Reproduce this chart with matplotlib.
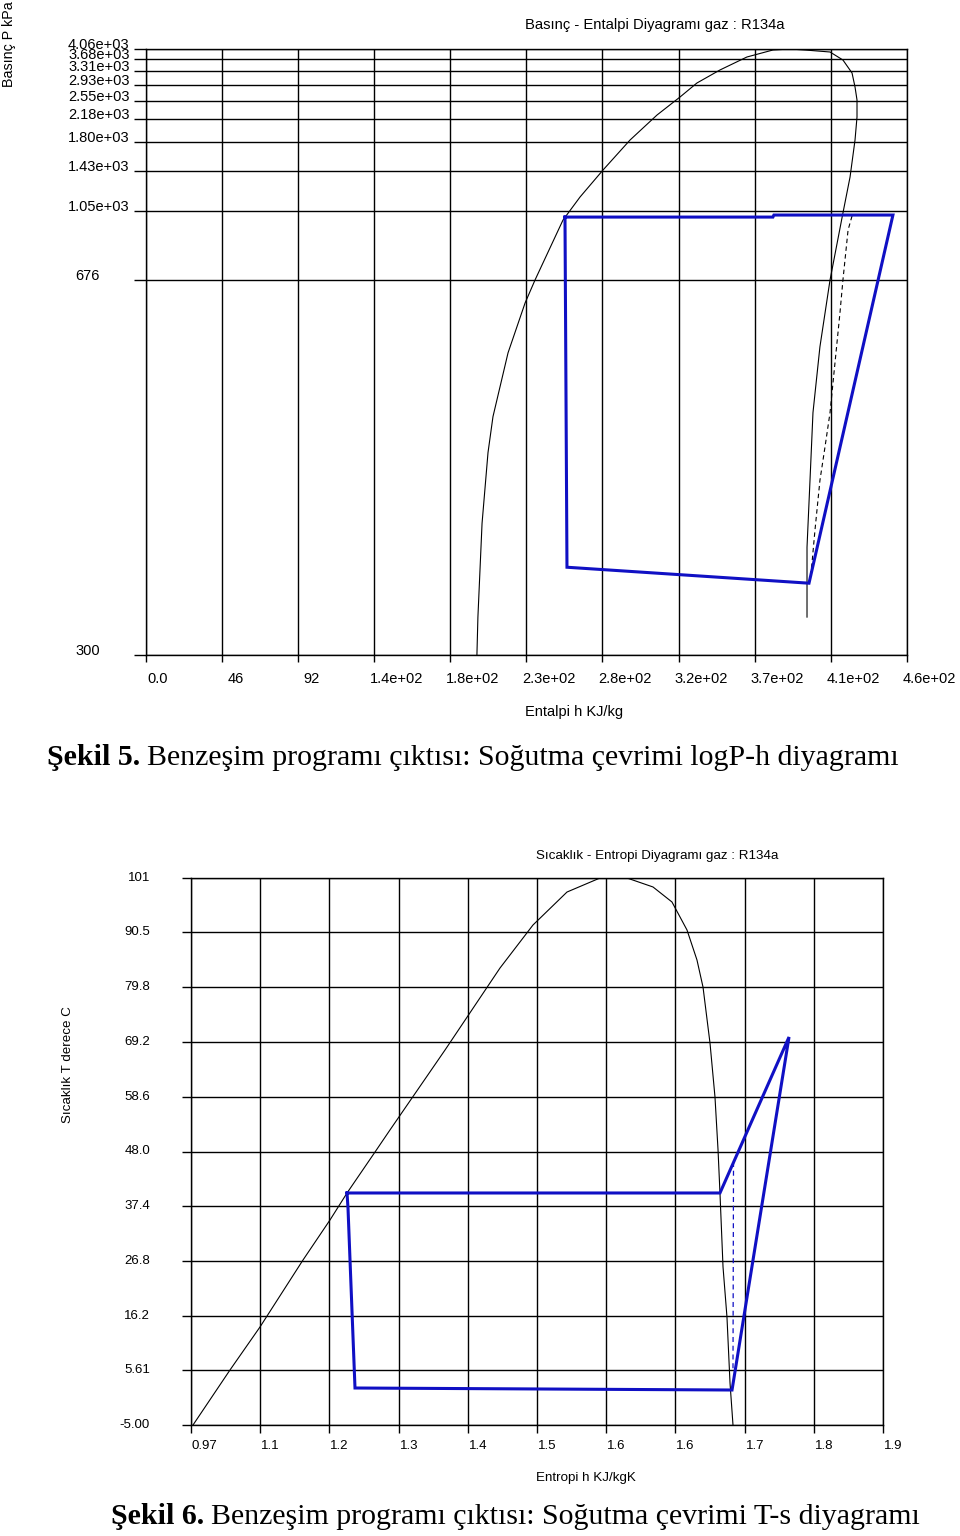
import numpy as np
import matplotlib
matplotlib.use("Agg")
import matplotlib.pyplot as plt
from matplotlib.transforms import blended_transform_factory, offset_copy

W, H = 960, 1536

# ---- Basinc - Entalpi (log P-h) diagram, R134a ----
P_TICKS = [300, 676, 1050, 1430, 1800, 2180, 2550, 2930, 3310, 3680, 4060]
P_LABELS = ["300", "676", "1.05e+03", "1.43e+03", "1.80e+03", "2.18e+03",
            "2.55e+03", "2.93e+03", "3.31e+03", "3.68e+03", "4.06e+03"]
H_TICKS = [0, 46, 92, 138, 184, 230, 276, 322, 368, 414, 460]
H_LABELS = ["0.0", "46", "92", "1.4e+02", "1.8e+02", "2.3e+02", "2.8e+02",
            "3.2e+02", "3.7e+02", "4.1e+02", "4.6e+02"]

# saturation dome (liquid side up to critical point, then vapour side down)
dome_h = [200.2, 200.8, 203.3, 206.9, 209.9, 219.0, 229.3, 235.3, 252.2, 262.5,
          276.4, 292.7, 309.0, 322.9, 333.1, 347.0, 363.3, 379.0, 389.3, 398.4,
          413.5, 421.3, 426.8, 428.6, 429.8, 429.8, 428.6, 425.6, 421.3, 413.5,
          407.4, 403.2, 401.4, 399.6, 399.6]
dome_p = [300, 338, 432, 503, 539, 603, 653, 676, 1001, 1183,
          1443, 1833, 2262, 2645, 2984, 3341, 3756, 4022, 4060, 4022,
          3946, 3649, 3256, 2883, 2574, 2221, 1833, 1373, 1039, 676,
          609, 543, 475, 408, 338]

# isentropic compression (dashed)
isen_h = [426.8, 424.4, 421.3, 419.5, 416.5, 413.5, 410.5, 407.4, 404.4, 402.6, 401.4]
isen_p = [1023, 947, 676, 643, 593, 543, 509, 475, 425, 392, 375]

# refrigeration cycle
cyc_h = [253.4, 379.0, 379.6, 451.5, 400.8, 254.6, 253.4]
cyc_p = [1017, 1017, 1028, 1028, 372, 388, 1017]

# ---- Sicaklik - Entropi (T-s) diagram, R134a ----
T_TICKS = [-5.00, 5.61, 16.2, 26.8, 37.4, 48.0, 58.6, 69.2, 79.8, 90.5, 101]
T_LABELS = ["-5.00", "5.61", "16.2", "26.8", "37.4", "48.0", "58.6", "69.2",
            "79.8", "90.5", "101"]
S_LABELS = ["0.97", "1.1", "1.2", "1.3", "1.4", "1.5", "1.6", "1.6", "1.7", "1.8", "1.9"]
S_MIN, S_MAX = 0.97, 1.9

ts_dome_s = [0.9727, 1.0224, 1.0627, 1.1205, 1.1568, 1.1797, 1.2173, 1.2374,
             1.3114, 1.3853, 1.4296, 1.4753, 1.5197, 1.5559, 1.5909, 1.6164,
             1.6366, 1.6500, 1.6581, 1.6648, 1.6675, 1.6742, 1.6783, 1.6809,
             1.6850, 1.6903, 1.6944, 1.6984]
ts_dome_t = [-5.0, 5.66, 13.99, 26.97, 34.73, 39.96, 47.90, 52.17,
             67.67, 83.56, 91.89, 98.28, 101.0, 101.0, 99.26, 96.35,
             90.92, 85.11, 79.87, 72.12, 69.02, 58.56, 48.29, 39.96,
             25.62, 15.93, 3.14, -5.0]

ts_isen_s = [1.6991, 1.6984]
ts_isen_t = [45.97, 5.66]

ts_cyc_s = [1.1797, 1.6809, 1.7737, 1.6971, 1.1904, 1.1837, 1.1810, 1.1797]
ts_cyc_t = [39.96, 39.96, 70.19, 1.78, 2.17, 26.97, 37.05, 39.96]

# pressure axis of the program is neither linear nor log: tick lines sit at these heights
P_AXIS_POS = [0.0, 0.6188, 0.7327, 0.7987, 0.8465, 0.8845, 0.9142, 0.9406, 0.9637, 0.9835, 1.0]

BLUE = "#1010c4"
SANS = "Liberation Sans"
SERIF = "Liberation Serif"


def fx(x):
    return x / W


def fy(y):
    return 1 - y / H


def p_fwd(p):
    return np.interp(p, P_TICKS, P_AXIS_POS)


def p_inv(v):
    return np.interp(v, P_AXIS_POS, P_TICKS)


def style_axes(ax, ylen, xlen):
    ax.grid(True, color="black", linewidth=1.0)
    ax.set_axisbelow(True)
    ax.tick_params(axis="y", length=ylen, width=1.0, color="black",
                   labelleft=False, direction="out")
    ax.tick_params(axis="x", length=xlen, width=1.0, color="black",
                   labelbottom=False, direction="out")
    for sp in ax.spines.values():
        sp.set_linewidth(1.0)
        sp.set_color("black")


def caption(fig, x, y, bold, rest, size):
    r = fig.canvas.get_renderer()
    t = fig.text(fx(x), fy(y), bold, fontsize=size, fontweight="bold",
                 family=SERIF, va="center", ha="left")
    bb = t.get_window_extent(renderer=r)
    fig.text((bb.x1 + size * 0.33) / W, fy(y), rest, fontsize=size,
             family=SERIF, va="center", ha="left")


fig = plt.figure(figsize=(9.6, 15.36), dpi=100)

# ---------------- P-h ----------------
ax1 = fig.add_axes([fx(145.5), fy(655), (907 - 145.5) / W, (655 - 49) / H])
ax1.set_yscale("function", functions=(p_fwd, p_inv))
ax1.plot(dome_h, dome_p, color="black", lw=0.8)
ax1.plot(isen_h, isen_p, color="black", lw=0.8, ls=(0, (4, 3)))
ax1.plot(cyc_h, cyc_p, color=BLUE, lw=2.2, solid_joinstyle="miter")
ax1.set_xlim(0, 460)
ax1.set_ylim(300, 4060)
ax1.set_xticks(H_TICKS)
ax1.set_yticks(P_TICKS)
ax1.yaxis.set_minor_locator(plt.NullLocator())
style_axes(ax1, 8.3, 5)

tr_y = blended_transform_factory(fig.transFigure, ax1.transData)
for p, lab in zip(P_TICKS, P_LABELS):
    xl = 68 if len(lab) > 3 else 75
    ax1.text(fx(xl), p, lab, transform=tr_y, ha="left", va="baseline",
             fontsize=10.5, family=SANS)

tr_x = blended_transform_factory(ax1.transData, fig.transFigure)
for h, lab in zip(H_TICKS, H_LABELS):
    dx = -4 if len(lab) > 3 else (2 if "." in lab else 6)
    ax1.text(h, fy(679), lab, ha="left", va="center", fontsize=10.5, family=SANS,
             transform=offset_copy(tr_x, fig=fig, x=dx, y=0, units="dots"))

fig.text(fx(525), fy(25), "Basınç - Entalpi Diyagramı gaz : R134a",
         fontsize=10.6, family=SANS, ha="left", va="center")
fig.text(fx(525), fy(712), "Entalpi h KJ/kg", fontsize=10.5, family=SANS,
         ha="left", va="center")
fig.text(fx(9), fy(1), "Basınç P kPa", fontsize=10.3, family=SANS, rotation=90,
         ha="center", va="top")

# ---------------- T-s ----------------
ax2 = fig.add_axes([fx(191), fy(1425), (883 - 191) / W, (1425 - 878) / H])
ax2.plot(ts_dome_s, ts_dome_t, color="black", lw=0.8)
ax2.plot(ts_isen_s, ts_isen_t, color=BLUE, lw=0.9, ls=(0, (4, 3)))
ax2.plot(ts_cyc_s, ts_cyc_t, color=BLUE, lw=2.2, solid_joinstyle="miter")
ax2.set_xlim(S_MIN, S_MAX)
ax2.set_ylim(T_TICKS[0], T_TICKS[-1])
s_ticks = np.linspace(S_MIN, S_MAX, len(S_LABELS))
ax2.set_xticks(s_ticks)
ax2.set_yticks(T_TICKS)
style_axes(ax2, 6.5, 5.5)

tr_y2 = blended_transform_factory(fig.transFigure, ax2.transData)
for t, lab in zip(T_TICKS, T_LABELS):
    ax2.text(fx(150), t, lab, transform=tr_y2, ha="right", va="center",
             fontsize=9.5, family=SANS)

tr_x2 = blended_transform_factory(ax2.transData, fig.transFigure)
for s, lab in zip(s_ticks, S_LABELS):
    ax2.text(s, fy(1446), lab, ha="left", va="center", fontsize=9.5, family=SANS,
             transform=offset_copy(tr_x2, fig=fig, x=1, y=0, units="dots"))

fig.text(fx(536), fy(856), "Sıcaklık - Entropi Diyagramı gaz : R134a",
         fontsize=9.6, family=SANS, ha="left", va="center")
fig.text(fx(536), fy(1478), "Entropi h KJ/kgK", fontsize=9.6, family=SANS,
         ha="left", va="center")
fig.text(fx(68), fy(1065), "Sıcaklık T derece C", fontsize=9.6, family=SANS,
         rotation=90, ha="center", va="center")

# ---------------- captions ----------------
caption(fig, 47, 758, "Şekil 5.",
        "Benzeşim programı çıktısı: Soğutma çevrimi logP-h diyagramı", 21.5)
caption(fig, 111, 1517, "Şekil 6.",
        "Benzeşim programı çıktısı: Soğutma çevrimi T-s diyagramı", 21.5)

fig.savefig("out.png", dpi=100)
